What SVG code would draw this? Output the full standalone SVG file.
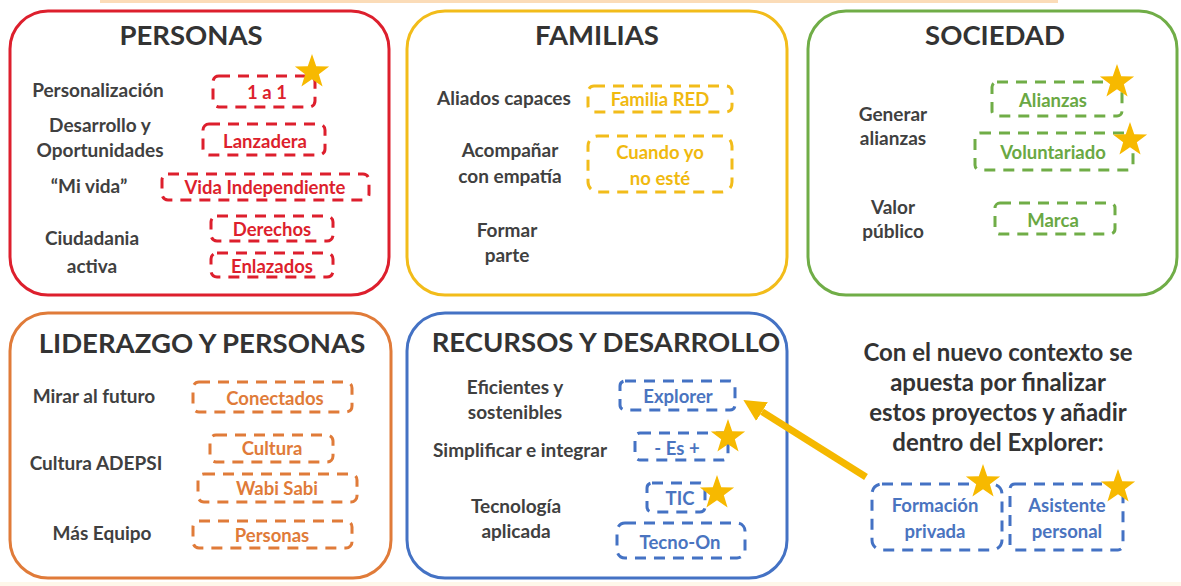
<svg xmlns="http://www.w3.org/2000/svg" width="1181" height="586" viewBox="0 0 1181 586">
<defs>
<style>
.panel{fill:#fff;stroke-width:3}
.title{font-family:Lato,"Open Sans","Liberation Sans",sans-serif;font-weight:bold;font-size:27.5px;fill:#333;text-anchor:middle}
.lbl{font-family:Lato,"Open Sans","Liberation Sans",sans-serif;font-weight:bold;font-size:19px;fill:#404040;text-anchor:middle}
.box{fill:none;stroke-width:3;stroke-dasharray:11 8}
.bt{font-family:Lato,"Open Sans","Liberation Sans",sans-serif;font-weight:bold;font-size:18.5px;text-anchor:middle;dominant-baseline:central}
.note{font-family:Lato,"Open Sans","Liberation Sans",sans-serif;font-weight:bold;font-size:24px;fill:#333;text-anchor:middle}
.red{stroke:#dd1f2d}.redt{fill:#dd1f2d}
.yel{stroke:#f2bc1a}.yelt{fill:#f0b90f}
.grn{stroke:#70ad47}.grnt{fill:#6aa843}
.org{stroke:#e07b39}.orgt{fill:#e07b39}
.blu{stroke:#4472c4}.blut{fill:#4a74c0}
.star{fill:#f7b900}
</style>
<path id="star" d="M0,-18 L4.23,-5.82 L17.12,-5.56 L6.85,2.22 L10.58,14.56 L0,7.2 L-10.58,14.56 L-6.85,2.22 L-17.12,-5.56 L-4.23,-5.82 Z"/>
<marker id="ah" markerUnits="userSpaceOnUse" markerWidth="22" markerHeight="22" refX="0" refY="10" orient="auto" viewBox="0 0 20 20">
<path d="M0,0 L20,10 L0,20 Z" fill="#f5b800"/>
</marker>
</defs>
<rect x="0" y="0" width="1181" height="586" fill="#fff"/>
<rect x="100" y="0" width="958" height="3" fill="#fbdcb8"/>
<rect x="0" y="582" width="1181" height="4" fill="#fef7ea"/>

<g id="personas">
<rect class="panel red" x="10" y="11" width="379" height="284" rx="38"/>
<text class="title" x="191" y="45">PERSONAS</text>
<text class="lbl" x="98" y="97">Personalización</text>
<text class="lbl" x="100" y="132">Desarrollo y</text>
<text class="lbl" x="100" y="157">Oportunidades</text>
<text class="lbl" x="89" y="193">“Mi vida”</text>
<text class="lbl" x="92" y="245">Ciudadania</text>
<text class="lbl" x="92" y="273">activa</text>
<rect class="box red" x="213" y="76" width="102" height="31" rx="6"/>
<text class="bt redt" x="267" y="92">1 a 1</text>
<rect class="box red" x="203" y="124" width="122" height="31" rx="6"/>
<text class="bt redt" x="265" y="141">Lanzadera</text>
<rect class="box red" x="162" y="174" width="207" height="26" rx="6"/>
<text class="bt redt" x="265" y="187">Vida Independiente</text>
<rect class="box red" x="211" y="216" width="122" height="25" rx="6"/>
<text class="bt redt" x="272" y="229">Derechos</text>
<rect class="box red" x="211" y="253" width="122" height="24" rx="6"/>
<text class="bt redt" x="272" y="266">Enlazados</text>
<use href="#star" class="star" x="312" y="72"/>
</g>

<g id="familias">
<rect class="panel yel" x="407" y="11" width="380" height="284" rx="38"/>
<text class="title" x="597" y="45">FAMILIAS</text>
<text class="lbl" x="504" y="105">Aliados capaces</text>
<text class="lbl" x="510" y="157">Acompañar</text>
<text class="lbl" x="510" y="183">con empatía</text>
<text class="lbl" x="507" y="237">Formar</text>
<text class="lbl" x="507" y="262">parte</text>
<rect class="box yel" x="588" y="86" width="144" height="26" rx="6"/>
<text class="bt yelt" x="660" y="99">Familia RED</text>
<rect class="box yel" x="588" y="136" width="144" height="56" rx="10"/>
<text class="bt yelt" x="660" y="152">Cuando  yo</text>
<text class="bt yelt" x="660" y="178">no esté</text>
</g>

<g id="sociedad">
<rect class="panel grn" x="808" y="11" width="369" height="284" rx="38"/>
<text class="title" x="995" y="45">SOCIEDAD</text>
<text class="lbl" x="893" y="121">Generar</text>
<text class="lbl" x="893" y="145">alianzas</text>
<text class="lbl" x="893" y="214">Valor</text>
<text class="lbl" x="893" y="238">público</text>
<rect class="box grn" x="992" y="82" width="130" height="34" rx="5"/>
<text class="bt grnt" x="1053" y="100">Alianzas</text>
<rect class="box grn" x="975" y="133" width="158" height="37" rx="5"/>
<text class="bt grnt" x="1053" y="152">Voluntariado</text>
<rect class="box grn" x="995" y="203" width="120" height="31" rx="5"/>
<text class="bt grnt" x="1053" y="220">Marca</text>
<use href="#star" class="star" x="1117" y="82"/>
<use href="#star" class="star" x="1130" y="140"/>
</g>

<g id="liderazgo">
<rect class="panel org" x="10" y="313" width="381" height="265" rx="38"/>
<text class="title" x="202" y="353">LIDERAZGO Y PERSONAS</text>
<text class="lbl" x="94" y="403">Mirar al futuro</text>
<text class="lbl" x="96" y="470">Cultura ADEPSI</text>
<text class="lbl" x="102" y="540">Más Equipo</text>
<rect class="box org" x="193" y="382" width="159" height="30" rx="6"/>
<text class="bt orgt" x="275" y="398">Conectados</text>
<rect class="box org" x="210" y="435" width="123" height="27" rx="6"/>
<text class="bt orgt" x="272" y="448">Cultura</text>
<rect class="box org" x="198" y="474" width="159" height="28" rx="6"/>
<text class="bt orgt" x="277" y="488">Wabi Sabi</text>
<rect class="box org" x="193" y="521" width="159" height="27" rx="6"/>
<text class="bt orgt" x="272" y="535">Personas</text>
</g>

<g id="recursos">
<rect class="panel blu" x="407" y="313" width="380" height="265" rx="38"/>
<text class="title" x="606" y="352">RECURSOS Y DESARROLLO</text>
<text class="lbl" x="515" y="394">Eficientes y</text>
<text class="lbl" x="515" y="419">sostenibles</text>
<text class="lbl" x="520" y="457">Simplificar e integrar</text>
<text class="lbl" x="516" y="513">Tecnología</text>
<text class="lbl" x="516" y="538">aplicada</text>
<rect class="box blu" x="620" y="381" width="115" height="29" rx="5"/>
<text class="bt blut" x="678" y="396">Explorer</text>
<rect class="box blu" x="635" y="433" width="93" height="27" rx="5"/>
<text class="bt blut" x="677" y="448">- Es +</text>
<rect class="box blu" x="647" y="483" width="58" height="29" rx="5"/>
<text class="bt blut" x="680" y="498">TIC</text>
<rect class="box blu" x="617" y="523" width="128" height="35" rx="8"/>
<text class="bt blut" x="680" y="542">Tecno-On</text>
<use href="#star" class="star" x="728" y="437"/>
<use href="#star" class="star" x="717" y="493"/>
</g>

<g id="nota">
<text class="note" x="998" y="361">Con el nuevo contexto se</text>
<text class="note" x="998" y="391">apuesta por finalizar</text>
<text class="note" x="998" y="421">estos proyectos y añadir</text>
<text class="note" x="998" y="451">dentro del Explorer:</text>
</g>

<g id="formacion">
<rect class="box blu" x="872" y="484" width="130" height="66" rx="10"/>
<text class="bt blut" x="935" y="505">Formación</text>
<text class="bt blut" x="935" y="531">privada</text>
<use href="#star" class="star" x="983" y="482"/>
</g>

<g id="asistente">
<rect class="box blu" x="1010" y="484" width="113" height="66" rx="5"/>
<text class="bt blut" x="1067" y="505">Asistente</text>
<text class="bt blut" x="1067" y="531">personal</text>
<use href="#star" class="star" x="1118" y="487"/>
</g>

<g id="connectors">
<line x1="866" y1="477" x2="762" y2="411.6" stroke="#f5b800" stroke-width="7" marker-end="url(#ah)"/>
</g>
</svg>
